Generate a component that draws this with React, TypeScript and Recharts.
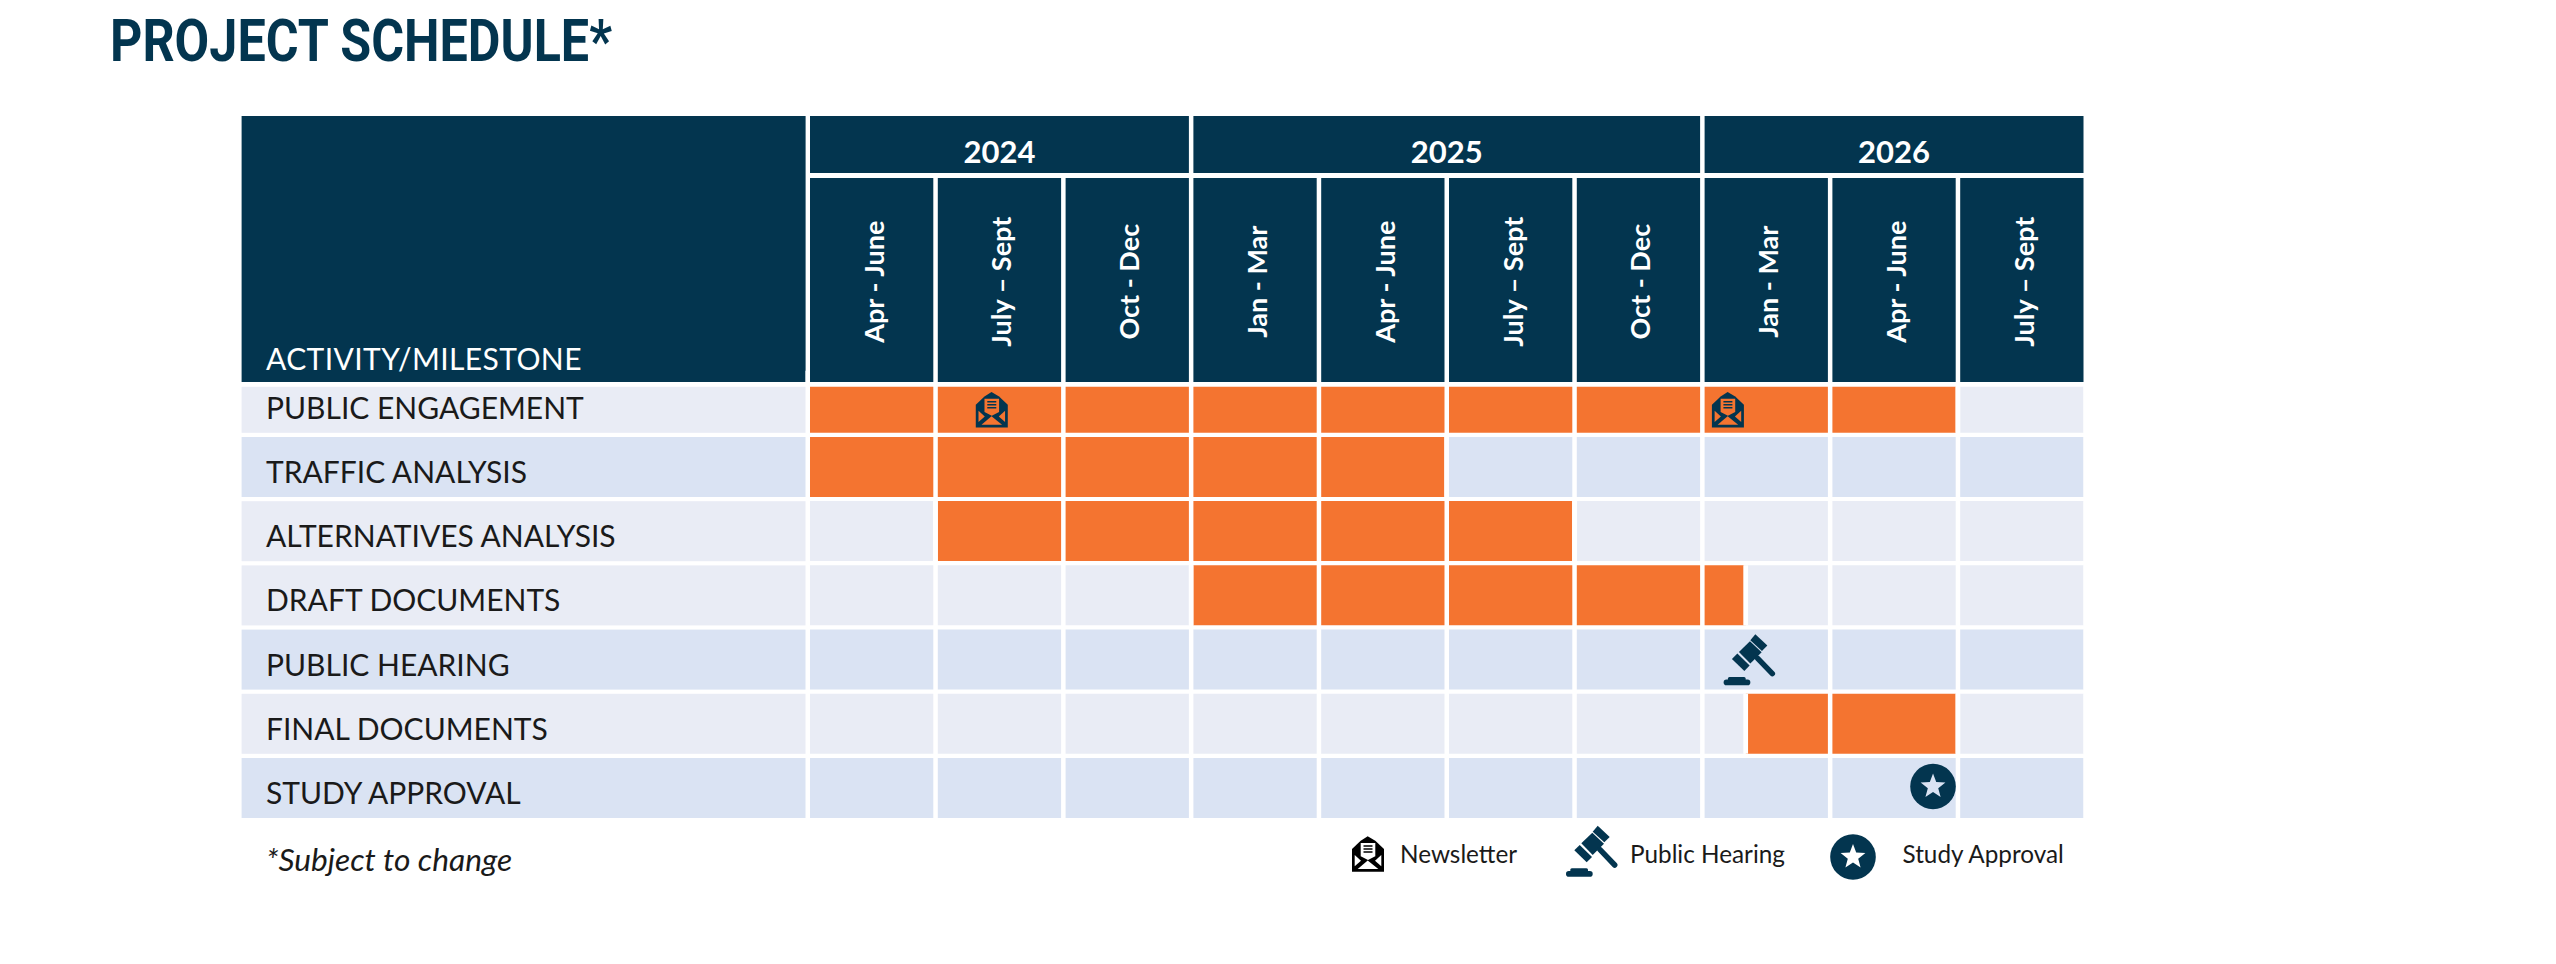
import { BarChart, Bar, XAxis, YAxis, ReferenceLine, ReferenceDot, Rectangle } from "recharts";

const NAVY = "#03354f";
const ORANGE = "#f47430";
const ROW_A = "#e9ecf5";
const ROW_B = "#dae3f3";
const FONT = "Lato, sans-serif";

const ACTIVITIES = [
  "PUBLIC ENGAGEMENT",
  "TRAFFIC ANALYSIS",
  "ALTERNATIVES ANALYSIS",
  "DRAFT DOCUMENTS",
  "PUBLIC HEARING",
  "FINAL DOCUMENTS",
  "STUDY APPROVAL",
];
const ROW_FILLS = [ROW_A, ROW_B, ROW_A, ROW_A, ROW_B, ROW_A, ROW_B];

// schedule, in quarters counted from Apr 2024 (null = milestone only)
const START_QUARTER = [0, 0, 1, 3, null, 7.34, null];
const END_QUARTER = [9, 5, 6, 7.34, null, 9, null];

const QUARTER_LABELS = [
  "Apr - June", "July – Sept", "Oct - Dec", "Jan - Mar", "Apr - June",
  "July – Sept", "Oct - Dec", "Jan - Mar", "Apr - June", "July – Sept",
];
const QUARTER_TICKS = [0.5, 1.5, 2.5, 3.5, 4.5, 5.5, 6.5, 7.5, 8.5, 9.5];
const QUARTER_EDGES = [0, 1, 2, 3, 4, 5, 6, 7, 8, 9, 10];

const YEAR_LABELS = ["2024", "2025", "2026"];
const YEAR_QUARTERS = [3, 4, 3];
const YEAR_TICKS = [1.5, 5, 8.5];

const MILESTONE_ROWS = ["PUBLIC ENGAGEMENT", "PUBLIC ENGAGEMENT", "PUBLIC HEARING", "STUDY APPROVAL"];
const MILESTONE_QUARTERS = [1.44, 7.2, 7.37, 8.805];
const MILESTONE_KINDS = ["newsletter", "newsletter", "hearing", "approval"];

const chartData = ACTIVITIES.map((name, i) => {
  const start = START_QUARTER[i];
  const end = END_QUARTER[i];
  return {
    name,
    lead: start === null ? 10 : start,
    active: start === null ? 0 : end - start,
    tail: start === null ? 0 : 10 - end,
    yearAxis: 0,
  };
});

const COLUMN = 127.8;
const GAP = 4.5;
const FIRST_ROW_TRIM = 14; // the first row is shorter than the others

function NewsletterIcon({ x, y, color, cut }: any) {
  return (
    <g transform={`translate(${x},${y})`}>
      <polygon fill={color} points="-16,-5 -7.3,-13.3 -0.3,-17.7 7.3,-13.3 16,-5 16,17.7 -16,17.7" />
      <polygon fill={cut} points="-7.3,-11 7.3,-11 7.3,2.3 0,6 -7.3,2.3" />
      <polygon fill={cut} points="-10.3,15 -0.3,6.5 10.3,15" />
      <polygon fill={cut} points="-13.3,1 -13.3,12.3 -7,6.7" />
      <polygon fill={cut} points="13.3,1 13.3,12.3 7,6.7" />
      <path d="M-4.5,-8H4.5M-4.5,-5H4.5M-4.5,-2H4.5" stroke={color} strokeWidth={1.6} />
    </g>
  );
}

function GavelIcon({ x, y }: any) {
  return (
    <g transform={`translate(${x},${y})`} fill={NAVY}>
      <polygon points="0.7,-19.3 5.7,-25.3 17.7,-14 12.3,-8.7" />
      <polygon points="-17.7,-0.7 -12.3,-6 0,6 -5.3,11.3" />
      <polygon points="-10.7,-7.7 0.3,-18.3 12,-7.3 0.7,4" />
      <line x1={8} y1={-1.3} x2={22.7} y2={14} stroke={NAVY} strokeWidth={5.5} strokeLinecap="round" />
      <rect x={-26} y={20} width={26.7} height={5.7} rx={2.8} />
      <rect x={-21.7} y={17.3} width={17.7} height={4} rx={1.5} />
    </g>
  );
}

function ApprovalIcon({ x, y, star }: any) {
  return (
    <g transform={`translate(${x},${y})`}>
      <circle r={22.8} fill={NAVY} />
      <polygon
        fill={star}
        points="0,-13 3.2,-4.4 12.4,-4 5.2,1.7 7.6,10.5 0,5.5 -7.6,10.5 -5.2,1.7 -12.4,-4 -3.2,-4.4"
      />
    </g>
  );
}

function Segment(props: any) {
  const { x, y, width, height, index, fill } = props;
  if (!width || width <= 0) return null;
  const trim = index === 0 ? FIRST_ROW_TRIM : 0;
  const top = y + trim;
  const h = height - trim;
  return (
    <g>
      <Rectangle x={x} y={top} width={width} height={h} fill={fill === "row" ? ROW_FILLS[index] : fill} />
      <rect x={x - GAP / 2} y={top} width={GAP} height={h} fill="#fff" />
      <rect x={x + width - GAP / 2} y={top} width={GAP} height={h} fill="#fff" />
    </g>
  );
}

function RowTick({ x, y, index, payload }: any) {
  const trim = index === 0 ? FIRST_ROW_TRIM : 0;
  return (
    <g>
      <rect x={241.6} y={y - 30 + trim} width={x - GAP / 2 - 241.6} height={60 - trim} fill={ROW_FILLS[index]} />
      <text x={266} y={y + 16} fontFamily={FONT} fontSize={30} fill="#1a1a1a">
        {payload.value}
      </text>
    </g>
  );
}

function QuarterTick({ x, y, index }: any) {
  const w = COLUMN - GAP;
  return (
    <g>
      <rect x={x - w / 2} y={y - 192.7} width={w} height={204} fill={NAVY} />
      <text
        transform={`translate(${x + 12},281.7) rotate(-90)`}
        textAnchor="middle"
        fontFamily={FONT}
        fontWeight={700}
        fontSize={27}
        fill="#fff"
      >
        {QUARTER_LABELS[index]}
      </text>
    </g>
  );
}

function YearTick({ x, y, index }: any) {
  const w = YEAR_QUARTERS[index] * COLUMN - GAP;
  return (
    <g>
      <rect x={x - w / 2} y={y - 62} width={w} height={57} fill={NAVY} />
      <text x={x} y={y - 15.3} textAnchor="middle" fontFamily={FONT} fontWeight={700} fontSize={31} fill="#fff">
        {YEAR_LABELS[index]}
      </text>
    </g>
  );
}

function MilestoneMark({ cx, cy, kind }: any) {
  if (kind === "newsletter") return <NewsletterIcon x={cx} y={cy + FIRST_ROW_TRIM / 2} color={NAVY} cut={ORANGE} />;
  if (kind === "hearing") return <GavelIcon x={cx} y={cy} />;
  return <ApprovalIcon x={cx} y={cy - 1.5} star={ROW_B} />;
}

export default function App() {
  return (
    <div style={{ position: "absolute", left: 0, top: 0, width: 2556, height: 964, background: "#fff" }}>
      <BarChart
        width={2556}
        height={964}
        layout="vertical"
        data={chartData}
        barSize={60}
        margin={{ top: 116, right: 470.25, bottom: 143.9, left: 241.6 }}
      >
        <XAxis
          type="number"
          orientation="top"
          domain={[0, 10]}
          ticks={QUARTER_TICKS}
          interval={0}
          height={192.7}
          axisLine={false}
          tickLine={false}
          tickSize={0}
          tickMargin={0}
          tick={QuarterTick}
        />
        <XAxis
          xAxisId="years"
          type="number"
          orientation="top"
          domain={[0, 10]}
          ticks={YEAR_TICKS}
          interval={0}
          height={62}
          axisLine={false}
          tickLine={false}
          tickSize={0}
          tickMargin={0}
          tick={YearTick}
        />
        <YAxis
          type="category"
          dataKey="name"
          width={566.15}
          interval={0}
          axisLine={false}
          tickLine={false}
          tickSize={0}
          tickMargin={0}
          tick={RowTick}
        />
        <Bar dataKey="lead" stackId="s" fill="row" shape={Segment} isAnimationActive={false} />
        <Bar dataKey="active" stackId="s" fill={ORANGE} shape={Segment} isAnimationActive={false} />
        <Bar dataKey="tail" stackId="s" fill="row" shape={Segment} isAnimationActive={false} />
        <Bar xAxisId="years" dataKey="yearAxis" stackId="s" fill="none" shape={() => null} isAnimationActive={false} />
        {QUARTER_EDGES.map((q) => (
          <ReferenceLine key={q} x={q} stroke="#fff" strokeWidth={GAP} />
        ))}
        {MILESTONE_KINDS.map((kind, i) => (
          <ReferenceDot
            key={i}
            x={MILESTONE_QUARTERS[i]}
            y={MILESTONE_ROWS[i]}
            ifOverflow="visible"
            shape={(p: any) => <MilestoneMark {...p} kind={kind} />}
          />
        ))}

        <text
          x={110}
          y={61}
          textLength={502}
          lengthAdjust="spacingAndGlyphs"
          fontFamily="Roboto, sans-serif"
          fontWeight={700}
          fontSize={60}
          fill={NAVY}
        >
          PROJECT SCHEDULE*
        </text>
        <rect x={241.6} y={116} width={564} height={266} fill={NAVY} />
        <text x={266} y={370} fontFamily={FONT} fontSize={30} letterSpacing={0.4} fill="#fff">
          ACTIVITY/MILESTONE
        </text>
        <text x={266} y={871} fontFamily={FONT} fontStyle="italic" fontSize={31.7} fill="#1a1a1a">
          *Subject to change
        </text>

        <NewsletterIcon x={1368} y={854} color="#000" cut="#fff" />
        <text x={1400} y={863} fontFamily={FONT} fontSize={24.3} fill="#1a1a1a">Newsletter</text>
        <GavelIcon x={1592} y={851} />
        <text x={1630} y={863} fontFamily={FONT} fontSize={24.3} fill="#1a1a1a">Public Hearing</text>
        <ApprovalIcon x={1853} y={857} star="#fff" />
        <text x={1902.5} y={863} fontFamily={FONT} fontSize={24.3} fill="#1a1a1a">Study Approval</text>
      </BarChart>
    </div>
  );
}
